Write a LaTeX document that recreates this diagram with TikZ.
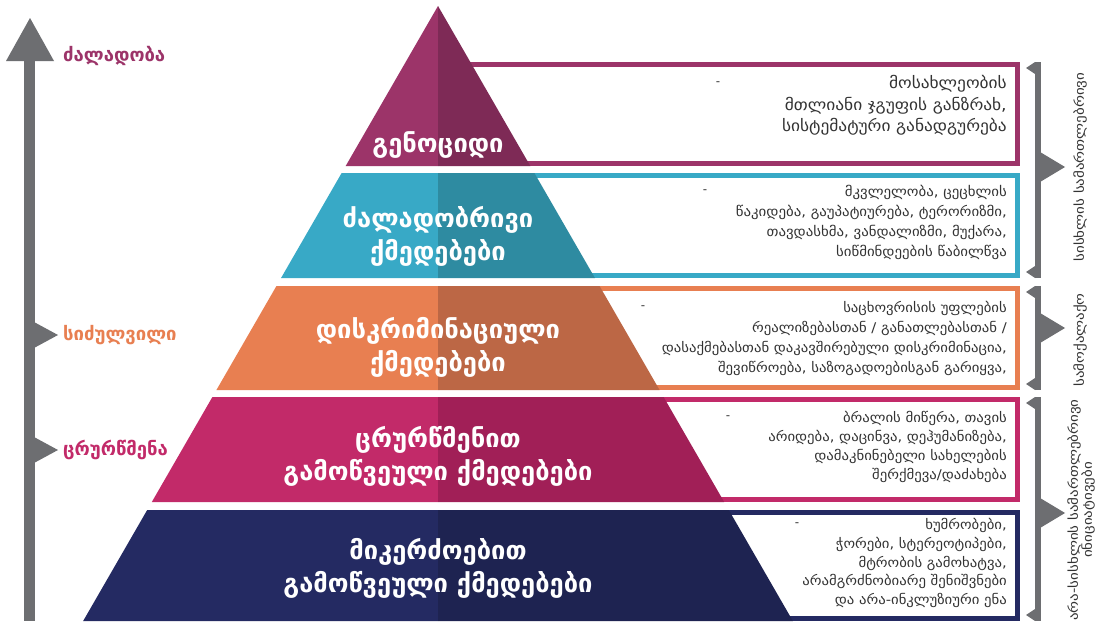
\documentclass[tikz,border=0pt]{standalone}
\usepackage{fontspec}
\setmainfont{DejaVu Sans}
\newfontfamily\geow[FakeStretch=1.1]{DejaVu Sans}
\newfontfamily\geor[FakeStretch=1.2]{DejaVu Sans}
\definecolor{gA}{HTML}{9C3469}\definecolor{gB}{HTML}{7E2A56}
\definecolor{vA}{HTML}{38A9C6}\definecolor{vB}{HTML}{2E8BA1}
\definecolor{dA}{HTML}{E87F51}\definecolor{dB}{HTML}{BC6745}
\definecolor{bA}{HTML}{C22A69}\definecolor{bB}{HTML}{A11F57}
\definecolor{pA}{HTML}{242A62}\definecolor{pB}{HTML}{1E2351}
\definecolor{grayc}{HTML}{6D6E71}
\definecolor{txt}{HTML}{333333}
\newcommand{\tiershape}[4]{%
  \fill[#3] (438,#1) -- ({438-0.577*(#1-6)},#1) -- ({438-0.577*(#2-6)},#2) -- (438,#2) -- cycle;
  \fill[#4] (438,#1) -- ({438+0.577*(#1-6)},#1) -- ({438+0.577*(#2-6)},#2) -- (438,#2) -- cycle;}
\newcommand{\bracketshape}[3]{%
  \fill[grayc] (1035,#1) rectangle (1041,#2);
  \fill[grayc] (1035,#1) -- (1026,{#1+6}) -- (1035,{#1+12}) -- cycle;
  \fill[grayc] (1035,#2) -- (1026,{#2-6}) -- (1035,{#2-12}) -- cycle;
  \fill[grayc] (1040,{#3-15}) -- (1065,#3) -- (1040,{#3+15}) -- cycle;}
\begin{document}
\begin{tikzpicture}[x=1pt,y=-1pt,
  pyr/.style={text=white,font=\bfseries\fontsize{25.5}{33}\selectfont,align=center,inner sep=0pt},
  boxtxt/.style={anchor=east,align=right,text=txt,inner sep=0pt},
  dashtxt/.style={text=txt,inner sep=0pt,font=\fontsize{12}{14}\selectfont},
  lefttxt/.style={anchor=west,inner sep=0pt,font=\bfseries\fontsize{18.5}{20}\selectfont},
  rottxt/.style={rotate=90,align=center,inner sep=0pt,text=txt,font=\geor\fontsize{12.5}{14}\selectfont},
  boxline/.style={line width=5pt}]
\useasboundingbox (0,0) rectangle (1099,621);
\fill[white] (0,0) rectangle (1099,621);
% boxes behind the pyramid
\draw[boxline,gA] (438,64.5) rectangle (1017.5,163.5);
\draw[boxline,vA] (438,175.5) rectangle (1017.5,275.5);
\draw[boxline,dA] (438,288.5) rectangle (1017.5,387.5);
\draw[boxline,bA] (438,399.5) rectangle (1017.5,499.5);
\draw[boxline,pA] (438,512.5) rectangle (1017.5,618.5);
% pyramid
\tiershape{6}{166}{gA}{gB}
\tiershape{173}{278}{vA}{vB}
\tiershape{286}{390}{dA}{dB}
\tiershape{397}{502}{bA}{bB}
\tiershape{510}{621}{pA}{pB}
\node[pyr] (t1) at (438,145) {გენოციდი};
\node[pyr] (t2) at (438,236.5) {ძალადობრივი\\ქმედებები};
\node[pyr] (t3) at (438,347.5) {დისკრიმინაციული\\ქმედებები};
\node[pyr] (t4) at (438,456.5) {ცრურწმენით\\გამოწვეული ქმედებები};
\node[pyr] (t5) at (438,568.5) {მიკერძოებით\\გამოწვეული ქმედებები};
% box texts
\node[boxtxt,font=\geow\fontsize{15.8}{21.5}\selectfont] (b1) at (1007,105.5) {მოსახლეობის\\მთლიანი ჯგუფის განზრახ,\\სისტემატური განადგურება};
\node[boxtxt,font=\geow\fontsize{13.5}{20}\selectfont] (b2) at (1007,222) {მკვლელობა, ცეცხლის\\წაკიდება, გაუპატიურება, ტერორიზმი,\\თავდასხმა, ვანდალიზმი, მუქარა,\\სიწმინდეების წაბილწვა};
\node[boxtxt,font=\geow\fontsize{13.4}{20}\selectfont] (b3) at (1007,338) {საცხოვრისის უფლების\\რეალიზებასთან / განათლებასთან /\\დასაქმებასთან დაკავშირებული დისკრიმინაცია,\\შევიწროება, საზოგადოებისგან გარიყვა,};
\node[boxtxt,font=\geow\fontsize{13.4}{19}\selectfont] (b4) at (1007,446.5) {ბრალის მიწერა, თავის\\არიდება, დაცინვა, დეჰუმანიზება,\\დამაკნინებელი სახელების\\შერქმევა/დაძახება};
\node[boxtxt,font=\geow\fontsize{13.4}{18.8}\selectfont] (b5) at (1007,563) {ხუმრობები,\\ჭორები, სტერეოტიპები,\\მტრობის გამოხატვა,\\არამგრძნობიარე შენიშვნები\\და არა-ინკლუზიური ენა};
\node[dashtxt] (d1) at (718,84) {-};
\node[dashtxt] (d2) at (705,192) {-};
\node[dashtxt] (d3) at (643,308) {-};
\node[dashtxt] (d4) at (728,418) {-};
\node[dashtxt] (d5) at (797,525) {-};
% left axis
\fill[grayc] (24,61) rectangle (35,621);
\fill[grayc] (30,18) -- (54,61) -- (6,61) -- cycle;
\fill[grayc] (34,322) -- (58,335) -- (34,348) -- cycle;
\fill[grayc] (34,437) -- (58,450) -- (34,463) -- cycle;
\node[lefttxt,text=gA] (l1) at (63,56) {ძალადობა};
\node[lefttxt,text=dA] (l2) at (63,335) {სიძულვილი};
\node[lefttxt,text=bA] (l3) at (63,450) {ცრურწმენა};
% right brackets
\bracketshape{62}{278}{167}
\bracketshape{286}{390}{328}
\bracketshape{397}{621}{513}
\node[rottxt] (r1) at (1080,167) {სისხლის სამართლებრივი};
\node[rottxt] (r2) at (1080,340) {სამოქალაქო};
\node[rottxt] (r3) at (1081,510) {არა-სისხლის სამართლებრივი\\ინიციატივები};
\end{tikzpicture}
\end{document}
